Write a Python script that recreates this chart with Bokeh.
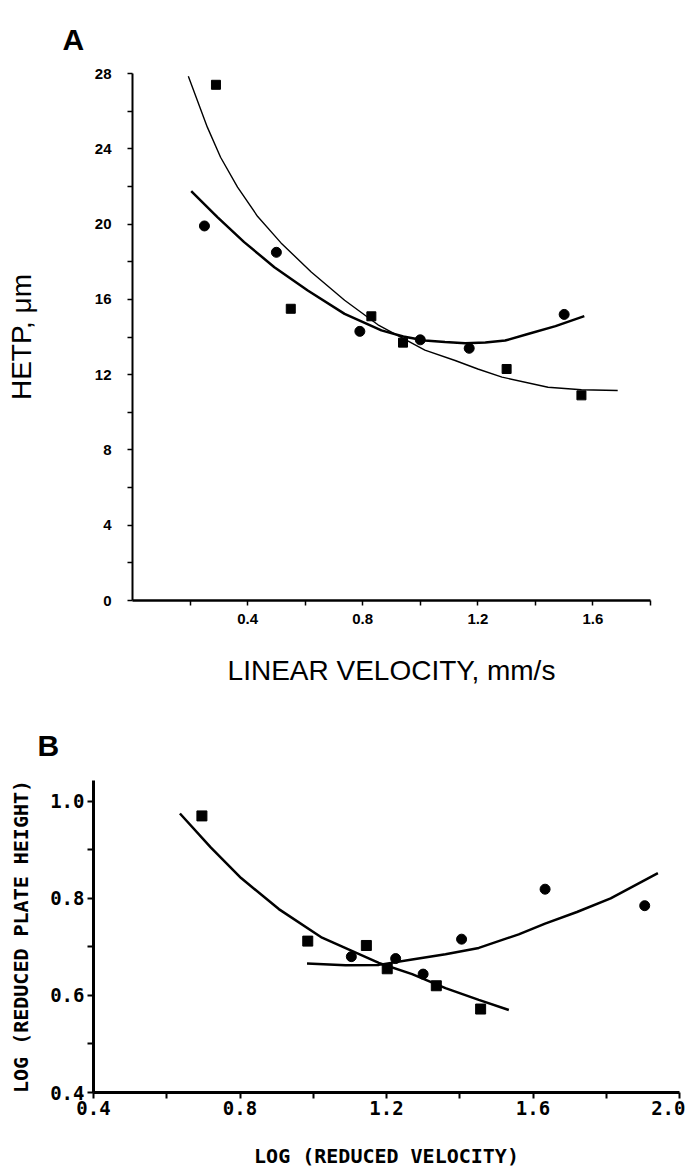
from bokeh.plotting import figure
from bokeh.models import Range1d, FixedTicker, PrintfTickFormatter, Title
from bokeh.embed import file_html
from bokeh.resources import INLINE

# ---------------- Panel A data ----------------
a_square_x = [0.29, 0.55, 0.83, 0.94, 1.30, 1.56]
a_square_y = [27.4, 15.5, 15.1, 13.7, 12.3, 10.9]
a_circle_x = [0.25, 0.50, 0.79, 1.00, 1.17, 1.50]
a_circle_y = [19.9, 18.5, 14.3, 13.85, 13.4, 15.2]
# fitted curves
a_square_fit_x = [0.194, 0.26, 0.306, 0.365, 0.435, 0.516, 0.621, 0.737, 0.853, 1.016, 1.121, 1.20, 1.284, 1.444, 1.56, 1.686]
a_square_fit_y = [27.86, 25.15, 23.55, 21.96, 20.4, 19.0, 17.45, 15.95, 14.65, 13.3, 12.75, 12.3, 11.87, 11.33, 11.2, 11.16]
a_circle_fit_x = [0.204, 0.295, 0.388, 0.493, 0.609, 0.737, 0.865, 0.941, 1.016, 1.086, 1.156, 1.226, 1.295, 1.377, 1.47, 1.570]
a_circle_fit_y = [21.75, 20.37, 19.04, 17.71, 16.47, 15.23, 14.35, 14.03, 13.81, 13.73, 13.67, 13.71, 13.81, 14.17, 14.58, 15.11]
a_y_ticks = [0, 4, 8, 12, 16, 20, 24, 28]
a_y_minor = [2, 6, 10, 14, 18, 22, 26]
a_x_ticks = [0.4, 0.8, 1.2, 1.6]
a_x_minor = [0.2, 0.6, 1.0, 1.4, 1.8]

# ---------------- Panel B data ----------------
b_square_x = [0.696, 0.985, 1.145, 1.202, 1.336, 1.457]
b_square_y = [0.970, 0.712, 0.703, 0.655, 0.620, 0.572]
b_circle_x = [1.104, 1.225, 1.300, 1.405, 1.633, 1.905]
b_circle_y = [0.680, 0.676, 0.644, 0.716, 0.819, 0.785]
b_square_fit_x = [0.636, 0.72, 0.803, 0.906, 1.024, 1.179, 1.27, 1.361, 1.452, 1.534]
b_square_fit_y = [0.975, 0.905, 0.842, 0.778, 0.719, 0.667, 0.644, 0.615, 0.591, 0.570]
b_circle_fit_x = [0.983, 1.088, 1.179, 1.27, 1.361, 1.452, 1.561, 1.633, 1.72, 1.812, 1.941]
b_circle_fit_y = [0.666, 0.662, 0.663, 0.674, 0.685, 0.698, 0.726, 0.748, 0.772, 0.800, 0.852]
b_y_ticks = [0.4, 0.6, 0.8, 1.0]
b_y_minor = [0.5, 0.7, 0.9]
b_x_ticks = [0.4, 0.8, 1.2, 1.6, 2.0]
b_x_minor = [0.6, 1.0, 1.4, 1.8]

SANS = "Liberation Sans"
MONO = "DejaVu Sans Mono"


def base_style(p):
    p.grid.visible = False
    p.outline_line_color = None
    p.background_fill_color = "white"
    p.border_fill_color = "white"
    for ax in (p.xaxis[0], p.yaxis[0]):
        ax.axis_line_color = "black"
        ax.major_tick_line_color = "black"
        ax.minor_tick_line_color = "black"
        ax.major_tick_in = 0
        ax.minor_tick_in = 0
        ax.major_label_text_color = "black"
        ax.axis_label_text_color = "black"
        ax.axis_label_text_font_style = "normal"


# ================= Panel A =================
pA = figure(width=669, height=705, output_backend="svg", toolbar_location=None,
            x_range=Range1d(0, 1.8), y_range=Range1d(0, 28),
            min_border_left=132, min_border_right=19,
            min_border_top=73, min_border_bottom=105)
base_style(pA)

pA.line(a_square_fit_x, a_square_fit_y, line_color="black", line_width=1.4)
pA.line(a_circle_fit_x, a_circle_fit_y, line_color="black", line_width=2.5)
pA.scatter(a_square_x, a_square_y, marker="square", size=9, color="black")
pA.scatter(a_circle_x, a_circle_y, marker="circle", size=10, color="black")

xa, ya = pA.xaxis[0], pA.yaxis[0]
xa.ticker = FixedTicker(ticks=a_x_ticks, minor_ticks=a_x_minor)
ya.ticker = FixedTicker(ticks=a_y_ticks, minor_ticks=a_y_minor)
xa.formatter = PrintfTickFormatter(format="%.1f")
ya.formatter = PrintfTickFormatter(format="%d")
xa.axis_line_width = 2.5
ya.axis_line_width = 2
for ax in (xa, ya):
    ax.major_tick_out = 5
    ax.minor_tick_out = 5
    ax.major_tick_line_width = 1.5
    ax.minor_tick_line_width = 1.5
    ax.major_label_text_font = SANS
    ax.major_label_text_font_style = "bold"
    ax.major_label_text_font_size = "15px"
    ax.axis_label_text_font = SANS
    ax.axis_label_text_font_size = "28px"
xa.major_label_standoff = 8
ya.major_label_standoff = 16
xa.axis_label = "LINEAR VELOCITY, mm/s"
ya.axis_label = "HETP, μm"
xa.axis_label_standoff = 28
ya.axis_label_standoff = 55

pA.add_layout(Title(text="A", align="left", offset=-70, standoff=36, text_font=SANS,
                    text_font_size="30px", text_font_style="bold", text_color="black"), "above")

# ================= Panel B =================
pB = figure(width=685, height=468, output_backend="svg", toolbar_location=None,
            x_range=Range1d(0.4, 2.0), y_range=Range1d(0.4, 1.043),
            min_border_left=93, min_border_right=6,
            min_border_top=75, min_border_bottom=81)
base_style(pB)

pB.line(b_square_fit_x, b_square_fit_y, line_color="black", line_width=2.5)
pB.line(b_circle_fit_x, b_circle_fit_y, line_color="black", line_width=2.5)
pB.scatter(b_square_x, b_square_y, marker="square", size=10, color="black")
pB.scatter(b_circle_x, b_circle_y, marker="circle", size=10, color="black")

xb, yb = pB.xaxis[0], pB.yaxis[0]
xb.ticker = FixedTicker(ticks=b_x_ticks, minor_ticks=b_x_minor)
yb.ticker = FixedTicker(ticks=b_y_ticks, minor_ticks=b_y_minor)
xb.formatter = PrintfTickFormatter(format="%.1f")
yb.formatter = PrintfTickFormatter(format="%.1f")
for ax in (xb, yb):
    ax.axis_line_width = 3
    ax.major_tick_out = 6
    ax.minor_tick_out = 6
    ax.major_tick_line_width = 2
    ax.minor_tick_line_width = 2
    ax.major_label_text_font = MONO
    ax.major_label_text_font_style = "bold"
    ax.major_label_text_font_size = "19px"
    ax.axis_label_text_font = MONO
    ax.axis_label_text_font_style = "bold"
    ax.axis_label_text_font_size = "20px"
xb.major_label_standoff = 2
yb.major_label_standoff = 3
xb.axis_label = "LOG (REDUCED VELOCITY)"
yb.axis_label = "LOG (REDUCED PLATE HEIGHT)"
xb.axis_label_standoff = 26
yb.axis_label_standoff = 14

pB.add_layout(Title(text="B", align="left", offset=-56, standoff=38, text_font=SANS,
                    text_font_size="30px", text_font_style="bold", text_color="black"), "above")

open("out.html", "w").write(file_html([pA, pB], INLINE))
